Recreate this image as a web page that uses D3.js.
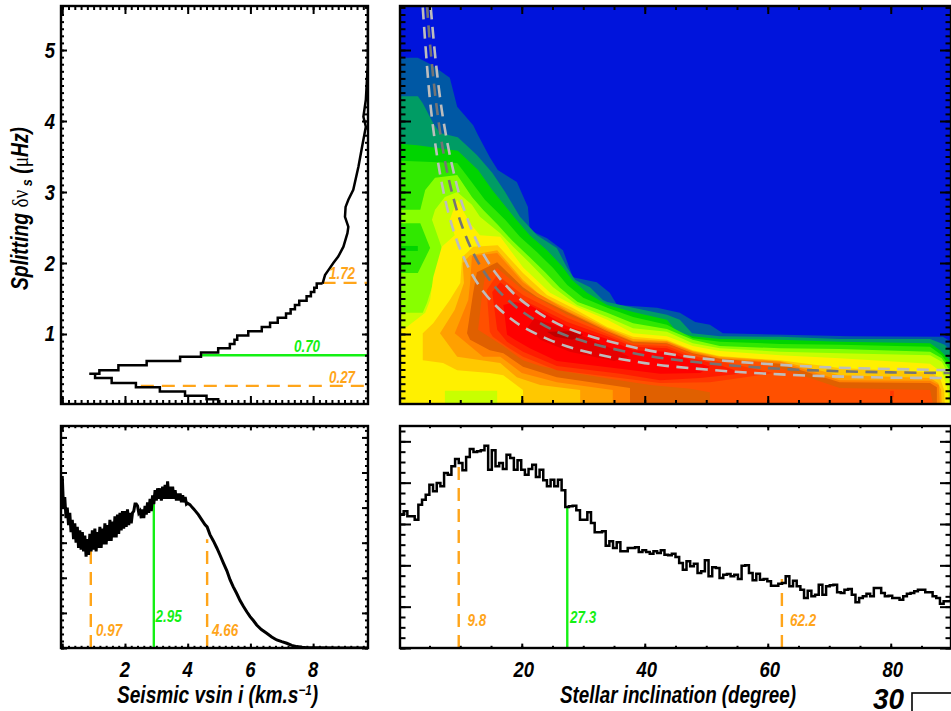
<!DOCTYPE html>
<html><head><meta charset="utf-8">
<script src="https://cdnjs.cloudflare.com/ajax/libs/d3/7.8.5/d3.min.js"></script>
<style>html,body{margin:0;padding:0;background:#fff;overflow:hidden}svg{display:block}text{font-family:"Liberation Sans",Arial,sans-serif;font-weight:bold;font-style:italic}</style>
</head><body><svg id="c" width="951" height="711"></svg>
<script>
// ---------- tick labels / axis labels
const splitTickLabels = [1,2,3,4,5];
const vsiniTickLabels = [2,4,6,8];
const incTickLabels = [20,40,60,80];

// ---------- contour colours, lowest to highest probability
const levelColors = ["#0014dc","#0058a4","#009c64","#00d400","#30e800","#88ff00","#c8ff00","#fff000","#ffc800","#ffa000","#ff8000","#e06000","#ff5000","#ff3800","#ff1c00","#ff0000","#e60000","#c00000"];

// ---------- contour boundaries: [inclination deg, splitting uHz]
const contour1 = [[.2,4.89],[3.1,4.89],[5.4,4.79],[8.3,4.61],[9.5,4.20],[12.1,3.94],[12.9,3.80],[14.8,3.49],[16.1,3.31],[19.2,3.14],[21.0,2.79],[21.3,2.46],[24.1,2.35],[26.7,2.18],[28.3,1.80],[32.2,1.73],[34.3,1.58],[35.5,1.41],[42.0,1.37],[45.7,1.30],[48.2,1.17],[50.6,1.13],[52.7,1.01],[73.4,.97],[88.5,.96],[89.8,.89],[89.8,0],[.2,0]];
const contour2 = [[.2,4.35],[3.1,4.35],[3.9,4.25],[5.6,3.97],[6.7,3.83],[9.6,3.77],[12.7,3.52],[15.2,3.27],[17.3,3.00],[19.7,2.65],[22.5,2.39],[25.7,2.21],[27.4,1.93],[28.7,1.76],[31.1,1.66],[33.2,1.48],[33.9,1.45],[38.1,1.37],[43.6,1.27],[45.7,1.20],[47.7,1.01],[52.2,.97],[62.0,.96],[71.7,.93],[86.4,.93],[88.8,.85],[89.8,.75],[89.8,0],[.2,0]];
const contour3 = [[.2,3.68],[3.0,3.66],[9.6,3.58],[12.9,3.31],[15.2,3.03],[18.9,2.63],[21.3,2.39],[24.1,2.18],[26.7,1.94],[28.2,1.76],[30.6,1.58],[33.9,1.41],[38.1,1.31],[43.6,1.20],[45.2,1.03],[47.8,.97],[52.2,.93],[62.0,.92],[71.7,.89],[86.4,.87],[88.0,.77],[89.8,.61],[89.8,0],[.2,0]];
const contour4 = [[.2,3.44],[9.5,3.41],[11.6,3.17],[14.0,2.89],[17.3,2.61],[19.7,2.37],[22.5,2.15],[25.1,1.93],[27.4,1.69],[30.0,1.51],[33.9,1.37],[38.1,1.24],[43.6,1.13],[47.8,.94],[52.2,.89],[62.0,.86],[71.7,.85],[86.4,.82],[88.3,.70],[89.8,.52],[89.8,0],[.2,0]];
const contour5 = [[.2,2.75],[3.5,2.75],[4.3,3.03],[5.9,3.20],[9.5,3.24],[11.9,2.93],[13.7,2.75],[16.1,2.54],[18.4,2.32],[21.3,2.08],[23.8,1.87],[26.2,1.65],[29.1,1.45],[33.9,1.30],[38.1,1.15],[43.6,1.07],[47.8,.92],[52.2,.83],[62.0,.80],[71.7,.79],[86.4,.75],[88.3,.66],[89.8,.46],[89.8,0],[.2,0]];
const hole4 = [[.2,2.56],[3.5,2.56],[5.1,2.21],[3.1,1.86],[.2,1.86]];
const blob3 = [[.2,2.24],[3.1,2.24],[3.1,2.17],[.2,2.17]];
const contour6 = [[.2,1.30],[3.9,1.30],[4.6,1.44],[5.9,1.80],[7.0,2.21],[5.4,2.61],[5.9,2.75],[7.5,2.93],[9.5,3.00],[11.9,2.82],[13.2,2.65],[16.5,2.42],[18.6,2.23],[21.3,2.00],[25.1,1.66],[29.0,1.41],[33.9,1.24],[38.1,1.08],[43.6,1.03],[47.8,.87],[52.2,.80],[62.0,.75],[71.7,.73],[86.4,.70],[88.3,.61],[89.5,.42],[89.8,.21],[89.8,0],[.2,0]];
const contour7 = [[.2,1.10],[1.3,1.10],[4.3,1.30],[5.1,1.48],[5.6,1.80],[7.0,2.23],[9.1,2.39],[8.3,2.61],[9.5,2.89],[11.6,2.56],[13.2,2.39],[16.5,2.37],[20.2,1.94],[24.6,1.58],[29.0,1.38],[33.9,1.20],[38.1,1.01],[43.6,.97],[47.8,.83],[52.2,.76],[62.0,.70],[71.7,.66],[86.4,.58],[88.3,.46],[89.1,.28],[89.5,0],[.2,0]];
const bottomPatch6 = [[7.5,.20],[16.0,.20],[16.0,0],[7.5,0]];
const contour8 = [[10.3,2.08],[12.1,2.23],[16.1,2.25],[20.2,1.86],[24.1,1.55],[28.2,1.37],[33.9,1.10],[38.1,.96],[43.6,.92],[47.8,.77],[52.2,.69],[62.0,.63],[71.7,.52],[86.4,.46],[88.0,.38],[88.7,.21],[88.8,0],[20.2,0],[20.2,.21],[17.0,.42],[14.8,.45],[9.5,.49],[7.2,.59],[3.9,.63],[3.9,1.01],[5.6,1.15],[8.3,1.48],[10.0,1.72]];
const contour9 = [[11.6,2.11],[16.0,2.18],[20.2,1.76],[23.0,1.55],[27.8,1.34],[33.9,1.08],[38.1,.93],[43.6,.90],[47.8,.76],[52.2,.68],[62.0,.62],[71.7,.42],[86.4,.38],[87.7,.31],[88.2,.21],[88.3,0],[29.5,0],[29.5,.21],[23.0,.28],[19.2,.39],[16.5,.59],[9.5,.68],[6.7,1.01],[9.1,1.34],[10.6,1.72],[10.4,2.00]];
const contour10 = [[11.9,2.10],[16.0,2.14],[20.2,1.73],[22.5,1.58],[27.5,1.32],[33.9,1.06],[38.1,.90],[43.6,.89],[47.8,.75],[52.2,.66],[62.0,.61],[71.7,.35],[86.4,.34],[87.8,.28],[88.0,0],[34.8,0],[34.8,.21],[25.7,.32],[20.0,.45],[16.5,.68],[13.7,.68],[9.1,1.01],[11.3,1.48],[11.6,1.72]];
const contour11 = [[12.7,1.87],[16.0,2.01],[20.2,1.66],[22.5,1.52],[27.4,1.31],[33.9,1.04],[38.1,.89],[43.6,.87],[47.8,.73],[52.2,.65],[62.0,.58],[71.7,.32],[86.4,.31],[87.5,.25],[87.5,0],[37.6,0],[37.6,.24],[25.7,.39],[20.2,.54],[17.0,.73],[14.8,.77],[11.6,.92],[11.1,1.01],[12.1,1.58]];
const contour12 = [[14.0,1.80],[16.0,1.93],[20.2,1.62],[27.4,1.27],[33.9,1.03],[38.1,.87],[43.6,.86],[47.8,.72],[52.2,.63],[58.7,.61],[62.0,.52],[71.7,.24],[86.4,.21],[86.9,0],[50.6,0],[50.6,.18],[47.4,.23],[40.9,.28],[34.3,.37],[27.8,.46],[23.0,.55],[20.2,.63],[17.0,.83],[12.9,1.06],[13.5,1.52]];
const contour13 = [[14.8,1.03],[14.3,1.62],[16.0,1.83],[20.2,1.55],[27.4,1.23],[33.9,1.00],[38.1,.85],[43.6,.83],[47.8,.69],[52.2,.61],[56.3,.54],[60.9,.45],[55.5,.38],[50.6,.32],[42.5,.31],[36.0,.38],[25.7,.49],[20.2,.68],[17.6,.82],[15.3,.96]];
const bottomPatch13 = [[79.9,.20],[80.5,.20],[80.5,.11],[79.9,.11]];
const contour14 = [[16.0,1.06],[15.2,1.59],[16.5,1.73],[20.2,1.48],[27.4,1.17],[33.9,.97],[38.1,.82],[43.6,.80],[47.8,.66],[52.2,.56],[54.7,.49],[55.5,.44],[49.0,.38],[42.5,.35],[36.0,.44],[25.7,.55],[20.2,.75],[17.6,.89]];
const contour15 = [[17.6,.99],[17.0,1.41],[18.9,1.45],[21.3,1.41],[27.4,1.11],[33.9,.93],[38.1,.77],[43.6,.75],[47.8,.62],[50.6,.54],[49.0,.45],[42.5,.44],[36.0,.51],[25.7,.62],[21.3,.80],[18.9,.92]];
const contour16 = [[22.0,1.22],[26.2,1.10],[32.7,.87],[37.5,.68],[35.0,.62],[27.8,.75],[23.0,.92],[21.0,1.10]];
const contour17 = [[24.1,1.03],[27.8,1.04],[30.0,.99],[28.2,.92],[25.4,.96]];
const paintOrder = [[1,contour1],[2,contour2],[3,contour3],[4,contour4],[5,contour5],[4,hole4],[3,blob3],[6,contour6],[7,contour7],[6,bottomPatch6],[8,contour8],[9,contour9],[10,contour10],[11,contour11],[12,contour12],[13,contour13],[13,bottomPatch13],[14,contour14],[15,contour15],[16,contour16],[17,contour17]];

// ---------- dashed ridge curves on the map
const ridgeUpperInc = [5.2,6,7,8,9,10,12,14,16,18,20,25,30,40,50,60,70,80,89.8];
const ridgeUpperSplit = [5.6,4.85,4.15,3.65,3.25,2.92,2.44,2.09,1.83,1.63,1.47,1.18,1.00,.78,.65,.577,.53,.507,.49];
const ridgeMidInc = [4.6,5,6,7,8,9,10,12,14,16,18,20,25,30,40,50,60,70,80,89.8];
const ridgeMidSplit = [5.62,5.16,4.31,3.69,3.23,2.88,2.59,2.16,1.86,1.63,1.46,1.32,1.06,.90,.70,.59,.52,.48,.46,.45];
const ridgeLowerInc = [3.9,5,6,7,8,9,10,12,14,16,18,20,25,30,40,50,60,70,80,89.8];
const ridgeLowerSplit = [5.6,4.36,3.64,3.12,2.73,2.43,2.19,1.83,1.57,1.38,1.23,1.11,.90,.76,.59,.50,.44,.405,.386,.38];

// ---------- splitting marginal (drawn sideways)
const splitStepPdf = [.512,.474,.404,.322,.244,.165,.111,.092,.125,.187,.279,.388,.456,.512,.550,.565,.574,.610,.654,.681,.706,.733,.748,.762,.776,.800,.814,.825,.833,.852];
const splitStepVal = [.02,.08,.13,.19,.25,.31,.38,.44,.44,.49,.56,.62,.68,.74,.80,.86,.92,.98,1.04,1.10,1.16,1.23,1.29,1.35,1.41,1.47,1.53,1.59,1.65,1.71];
const splitTailPdf = [.852,.860,.871,.887,.903,.920,.933,.936,.925,.927,.936,.952,.969,.983,.993,.985,.993,.999,1,1];
const splitTailVal = [1.71,1.83,1.90,2.00,2.09,2.23,2.42,2.51,2.65,2.79,2.89,3.03,3.36,3.69,3.92,4.06,4.30,4.77,5.23,5.61];

// ---------- vsin i marginal
const vsiniNoisyX = [0,.04,.08,.12,.16,.20,.24,.28,.32,.36,.40,.44,.48,.52,.56,.60,.64,.68,.72,.76,.80,.84,.88,.92,.96,1.00,1.04,1.08,1.12,1.16,1.20,1.24,1.28,1.32,1.36,1.40,1.44,1.48,1.52,1.56,1.60,1.64,1.68,1.72,1.76,1.80,1.84,1.88,1.92,1.96,2.00,2.04,2.08,2.12,2.16,2.20,2.24,2.28,2.32,2.36,2.40,2.44,2.48,2.52,2.56,2.60,2.64,2.68,2.72,2.76,2.80,2.84,2.88,2.92,2.96,3.00,3.04,3.08,3.12,3.16,3.20,3.24,3.28,3.32,3.36,3.40,3.44,3.48,3.52,3.56,3.60,3.64,3.68,3.72,3.76,3.80,3.84,3.88,3.92,3.96];
const vsiniNoisyPdf = [.98,.80,.86,.74,.80,.70,.77,.66,.73,.62,.71,.60,.69,.57,.67,.56,.66,.55,.64,.52,.62,.53,.65,.55,.67,.56,.68,.55,.66,.57,.69,.57,.68,.59,.71,.59,.70,.61,.73,.61,.72,.63,.75,.63,.76,.65,.77,.67,.78,.68,.78,.69,.79,.70,.77,.71,.77,.78,.82,.82,.81,.77,.78,.74,.79,.74,.81,.76,.83,.77,.85,.78,.87,.82,.90,.84,.91,.85,.91,.84,.92,.85,.93,.85,.95,.85,.92,.85,.92,.85,.90,.84,.88,.84,.88,.83,.87,.83,.86,.82];
const vsiniSmoothX = [4.0,4.07,4.15,4.25,4.34,4.45,4.55,4.62,4.71,4.82,4.93,5.03,5.14,5.25,5.35,5.45,5.56,5.67,5.78,5.89,5.99,6.1,6.2,6.35,6.52,6.68,6.84,7.0,7.16,7.32,7.48,7.65,7.8,8.2,8.8,9.75];
const vsiniSmoothPdf = [.825,.817,.80,.78,.76,.73,.703,.69,.646,.61,.57,.53,.484,.44,.389,.35,.312,.27,.236,.205,.179,.155,.131,.105,.084,.063,.046,.036,.027,.015,.008,.004,.002,.001,0,0];

// ---------- inclination marginal, histogram heights per 0.6 degree bin
const incBinWidth = 0.5973;
const incCounts = [400,410,395,395,385,430,445,460,490,470,495,485,525,520,545,567,555,533,573,597,588,590,593,607,535,593,545,555,537,580,570,535,563,535,520,537,550,513,535,503,485,505,485,505,473,423,425,427,413,385,385,407,375,347,347,350,307,320,300,317,290,290,300,300,302,288,293,288,283,290,285,293,280,278,283,273,255,235,260,245,253,225,230,263,215,242,240,210,220,222,215,220,207,247,248,225,203,223,205,207,200,187,187,193,195,215,185,202,185,175,150,172,155,160,190,160,185,188,190,167,165,175,177,160,137,150,155,163,155,180,180,165,155,157,150,150,145,155,163,165,170,175,175,167,167,155,150,133,140,140,163,140];

// ---------- credible-interval markers: [position, height reached, label, style]
const splitMarks = [[.27,.26,"0.27","o"],[.70,.456,"0.70","g"],[1.72,.852,"1.72","o"]];
const vsiniMarks = [[.91,.60,"0.97","o"],[2.92,.84,"2.95","g"],[4.62,.62,"4.66","o"]];
const incMarks = [[9.75,550,"9.8","o"],[27.4,423,"27.3","g"],[62.3,207,"62.2","o"]];

// ---------- layout
const svg = d3.select("#c");
const ORANGE="#ffa51a", GREEN="#14f014";
const L={x0:61,x1:368}, R={x0:400,x1:951}, T={y0:6,y1:404}, B={y0:426,y1:648};
const xSplitPdf=d3.scaleLinear([0,1],[L.x0,L.x1]);
const ySplit=d3.scaleLinear([0.014,5.62],[T.y1,T.y0]);
const xInc=d3.scaleLinear([.2,89.8],[R.x0,R.x1]);
const xV=d3.scaleLinear([-0.04,9.75],[L.x0,L.x1]);
const yV=d3.scaleLinear([0,1.265],[B.y1,B.y0]);
const yI=d3.scaleLinear([0,666],[B.y1,B.y0]);

const clip=(id,a,b)=>svg.append("clipPath").attr("id",id).append("rect").attr("x",a.x0).attr("y",b.y0).attr("width",a.x1-a.x0).attr("height",b.y1-b.y0);
clip("cTL",L,T);clip("cTR",R,T);clip("cBL",L,B);clip("cBR",R,B);

// ---- map
const map=svg.append("g").attr("clip-path","url(#cTR)");
map.append("rect").attr("x",R.x0).attr("y",T.y0).attr("width",R.x1-R.x0).attr("height",T.y1-T.y0).attr("fill",levelColors[0]);
const ring=d3.line().x(d=>xInc(d[0])).y(d=>ySplit(d[1])).curve(d3.curveLinearClosed);
paintOrder.forEach(([lv,pts])=>map.append("path").attr("d",ring(pts)).attr("fill",levelColors[lv]));
const ridge=d3.line().x(d=>xInc(d[0])).y(d=>ySplit(d[1])).curve(d3.curveCatmullRom.alpha(.5));
[[ridgeUpperInc,ridgeUpperSplit,"#bdbdbd"],[ridgeLowerInc,ridgeLowerSplit,"#bdbdbd"],[ridgeMidInc,ridgeMidSplit,"#747474"]].forEach(([a,b,c])=>
  map.append("path").attr("d",ridge(a.map((v,i)=>[v,b[i]]))).attr("fill","none").attr("stroke",c).attr("stroke-width",2.6).attr("stroke-dasharray","12 7.5"));

// ---- marginals
const line=(parent,pts,x,y,curve,c="#000",w=2.5,dash=null)=>parent.append("path").attr("d",d3.line().x(d=>x(d[0])).y(d=>y(d[1])).curve(curve)(pts)).attr("fill","none").attr("stroke",c).attr("stroke-width",w).attr("stroke-dasharray",dash).attr("stroke-linejoin","miter");
const gTL=svg.append("g").attr("clip-path","url(#cTL)");
splitMarks.forEach(([v,p,t,s])=>line(gTL,[[p,v],[1,v]],xSplitPdf,ySplit,d3.curveLinear,s=="g"?GREEN:ORANGE,2.4,s=="g"?null:"13 8"));
line(gTL,splitStepPdf.map((p,i)=>[p,splitStepVal[i]]),xSplitPdf,ySplit,d3.curveStepBefore);
line(gTL,splitTailPdf.map((p,i)=>[p,splitTailVal[i]]),xSplitPdf,ySplit,d3.curveLinear);

const gBL=svg.append("g").attr("clip-path","url(#cBL)");
vsiniMarks.forEach(([v,p,t,s])=>line(gBL,[[v,0],[v,p]],xV,yV,d3.curveLinear,s=="g"?GREEN:ORANGE,2.4,s=="g"?null:"13 8"));
line(gBL,vsiniNoisyX.map((v,i)=>[v,vsiniNoisyPdf[i]]).concat(vsiniSmoothX.map((v,i)=>[v,vsiniSmoothPdf[i]])),xV,yV,d3.curveLinear,"#000",3);

const gBR=svg.append("g").attr("clip-path","url(#cBR)");
incMarks.forEach(([v,p,t,s])=>line(gBR,[[v,0],[v,p]],xInc,yI,d3.curveLinear,s=="g"?GREEN:ORANGE,2.4,s=="g"?null:"13 8"));
const incPts=incCounts.map((c,i)=>[.2+i*incBinWidth,c]); incPts.push([.2+incCounts.length*incBinWidth,incCounts[incCounts.length-1]]);
line(gBR,incPts,xInc,yI,d3.curveStepAfter);

// ---- frames + ticks
function rng(a,b,s){const o=[];for(let i=0;a+i*s<=b+1e-6;i++)o.push(a+i*s);return o;}
function ticks(gen,scale,vals,len,tx,ty){
  const g=svg.append("g").attr("transform",`translate(${tx},${ty})`).call(gen(scale).tickValues(vals).tickSize(len).tickFormat(""));
  g.select(".domain").remove();
  g.selectAll("line").attr("stroke","#000").attr("stroke-width",2);
}
function panel(a,b,xs,xMaj,xMin,xLen,ys,yMaj,yMin,yLen){
  ticks(d3.axisTop,xs,xMin,xLen/2,0,b.y1);ticks(d3.axisTop,xs,xMaj,xLen,0,b.y1);
  ticks(d3.axisBottom,xs,xMin,xLen/2,0,b.y0);ticks(d3.axisBottom,xs,xMaj,xLen,0,b.y0);
  ticks(d3.axisRight,ys,yMin,yLen/2,a.x0,0);ticks(d3.axisRight,ys,yMaj,yLen,a.x0,0);
  ticks(d3.axisLeft,ys,yMin,yLen/2,a.x1,0);ticks(d3.axisLeft,ys,yMaj,yLen,a.x1,0);
  svg.append("rect").attr("x",a.x0).attr("y",b.y0).attr("width",a.x1-a.x0).attr("height",b.y1-b.y0).attr("fill","none").attr("stroke","#000").attr("stroke-width",2.4);
}
const vMaj=rng(0,9.7,2), vMin=rng(0,9.7,.2), iMaj=rng(20,89,20), iMin=rng(5,89,5);
const sMaj=rng(1,5.6,1), sMin=rng(.1,5.6,.1);
panel(L,T,xV,vMaj,vMin,8,ySplit,sMaj,sMin,6);
panel(R,T,xInc,iMaj,iMin,8,ySplit,sMaj,sMin,11);
panel(L,B,xV,vMaj,vMin,4.4,yV,rng(0,1.26,.2),rng(0,1.26,.04),6);
panel(R,B,xInc,iMaj,iMin,4.4,yI,rng(0,666,124),rng(0,666,31),11);

// ---- text
function txt(x,y,s,size,fill="#000",anchor="start",sx=.84){
  return svg.append("text").attr("transform",`translate(${x},${y}) scale(${sx},1)`).attr("font-size",size).attr("fill",fill).attr("text-anchor",anchor).text(s);
}
splitTickLabels.forEach(v=>txt(55,ySplit(v)+7.5,v,22,"#000","end"));
vsiniTickLabels.forEach(v=>txt(xV(v),677,v,22,"#000","middle"));
incTickLabels.forEach(v=>txt(xInc(v)+2,677,v,22,"#000","middle"));

txt(307,352,splitMarks[1][2],16,GREEN,"middle");
txt(342,382.5,splitMarks[0][2],16,ORANGE,"middle");
txt(342,279,splitMarks[2][2],16,ORANGE,"middle");
txt(96,635.5,vsiniMarks[0][2],16,ORANGE);
txt(155.5,621.5,vsiniMarks[1][2],16,GREEN);
txt(212,635.5,vsiniMarks[2][2],16,ORANGE);
txt(467.5,626,incMarks[0][2],16,ORANGE);
txt(570,623,incMarks[1][2],16,GREEN);
txt(790,626,incMarks[2][2],16,ORANGE);

const xl1=svg.append("text").attr("x",117).attr("y",703).attr("font-size",23).attr("textLength",201).attr("lengthAdjust","spacingAndGlyphs");
xl1.append("tspan").text("Seismic vsin i (km.s");
xl1.append("tspan").attr("dy",-8).attr("font-size",14).text("−1");
xl1.append("tspan").attr("dy",8).text(")");
svg.append("text").attr("x",560).attr("y",703).attr("font-size",23).attr("textLength",236).attr("lengthAdjust","spacingAndGlyphs").text("Stellar inclination (degree)");

const yl=svg.append("text").attr("transform","translate(27.5,290) rotate(-90)").attr("font-size",23).attr("textLength",163).attr("lengthAdjust","spacingAndGlyphs");
yl.append("tspan").text("Splitting ");
yl.append("tspan").attr("style","font-family:'Liberation Serif',serif;font-weight:normal;font-style:normal").text("δν");
yl.append("tspan").attr("dy",4).attr("font-size",15).text(" s");
yl.append("tspan").attr("dy",-4).text(" (");
yl.append("tspan").attr("style","font-family:'Liberation Serif',serif;font-weight:normal;font-style:normal").text("μ");
yl.append("tspan").text("Hz)");

// ---- next panel cropped at the page edge
txt(873,709,"30",30,"#000","start",.93);
const nextPanel=[{x0:912,x1:960}];
svg.selectAll("rect.next").data(nextPanel).enter().append("rect").attr("class","next").attr("x",d=>d.x0).attr("y",693).attr("width",d=>d.x1-d.x0).attr("height",40).attr("fill","none").attr("stroke","#000").attr("stroke-width",1.6);
</script></body></html>
